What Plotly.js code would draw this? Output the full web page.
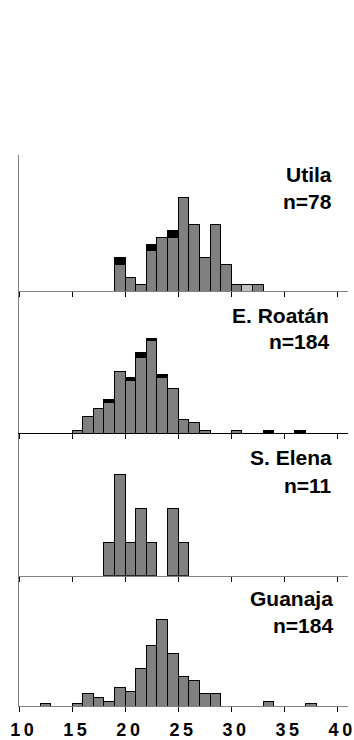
<!DOCTYPE html>
<html>
<head>
<meta charset="utf-8">
<script src="https://cdn.plot.ly/plotly-3.0.1.min.js"></script>
<style>html,body{margin:0;padding:0;background:#fff;}#chart{width:354px;height:740px;}</style>
</head>
<body>
<div id="chart"></div>
<script>
// Bin left edges (size 1) and counts per island
const utilaBins  = [19,20,21,22,23,24,25,26,27,28,29,30,31,32];
const utilaGray  = [4, 2, 1, 6, 8, 8, 14,10,5, 10,4, 1, 0, 1];
const utilaBlack = [1, 0, 0, 1, 0, 1, 0, 0, 0, 0, 0, 0, 0, 0];
const utilaLight = [0, 0, 0, 0, 0, 0, 0, 0, 0, 0, 0, 0, 1, 0];

const roatanBins  = [15,16,17,18,19,20,21,22,23,24,25,26,27,30,33,36];
const roatanGray  = [1, 6, 9, 11,22,19,27,33,20,16,5, 4, 1, 1, 0, 0];
const roatanBlack = [0, 0, 0, 1, 0, 1, 2, 1, 1, 0, 0, 0, 0, 0, 1, 1];

const elenaBins = [18,19,20,21,22,24,25];
const elenaGray = [1, 3, 1, 2, 1, 2, 1];

const guanajaBins = [12,15,16,17,18,19,20,21,22,23,24,25,26,27,28,33,37];
const guanajaGray = [1, 1, 6, 4, 2, 9, 7, 18,29,41,25,14,12,6, 6, 2, 1];

const panelNames = ['Utila','E. Roatán','S. Elena','Guanaja'];
const panelN     = ['n=78','n=184','n=11','n=184'];
const xTicks = [10,15,20,25,30,35,40];
const xTickText = ['1\u20090','1\u20095','2\u20090','2\u20095','3\u20090','3\u20095','4\u20090'];

const GRAY = '#808080', BLACK = '#000000', LIGHT = '#c0c0c0';

function barTrace(bins, vals, color, xa, ya) {
  return {
    type: 'bar', x: bins, y: vals, xaxis: xa, yaxis: ya,
    width: 1, offset: 0,
    marker: {color: color, line: {color: '#000', width: 1}},
    hoverinfo: 'skip', showlegend: false
  };
}

const traces = [
  barTrace(guanajaBins, guanajaGray, GRAY, 'x', 'y'),
  barTrace(elenaBins, elenaGray, GRAY, 'x2', 'y2'),
  barTrace(roatanBins, roatanGray, GRAY, 'x3', 'y3'),
  barTrace(roatanBins, roatanBlack, BLACK, 'x3', 'y3'),
  barTrace(utilaBins, utilaGray, GRAY, 'x4', 'y4'),
  barTrace(utilaBins, utilaBlack, BLACK, 'x4', 'y4'),
  barTrace(utilaBins, utilaLight, LIGHT, 'x4', 'y4')
];

const H = 740, T = 155, B = 34;
const plotH = H - T - B;
function py(p) { return (H - B - p) / plotH; }

const dGuan = [0, py(575.7)];
const dElen = [py(575.7), py(433.3)];
const dRoat = [py(433.3), py(291)];
const dUtil = [py(291), 1];

function xAxis(anchor, labels, lineColor) {
  return {
    anchor: anchor, domain: [0, 1], range: [10, 41],
    showline: true, linecolor: lineColor, linewidth: 1,
    ticks: 'outside', ticklen: 5, tickwidth: 1, tickcolor: '#000',
    tickvals: xTicks, ticktext: xTickText, showticklabels: labels,
    ticklabelshift: 3, ticklabelstandoff: 2,
    tickfont: {family: '"Liberation Sans", Arial, sans-serif', size: 18, color: '#000', weight: 'bold'},
    showgrid: false, zeroline: false, fixedrange: true
  };
}
function yAxis(anchor, domain, top) {
  return {
    anchor: anchor, domain: domain, range: [0, top],
    showline: true, linecolor: '#808080', linewidth: 1.3,
    ticks: '', showticklabels: false,
    showgrid: false, zeroline: false, fixedrange: true
  };
}

const annFont = {family: '"Liberation Sans", Arial, sans-serif', size: 21, color: '#000', weight: 'bold'};
function px(p) { return (p - 19) / (348 - 19); }
function ann(text, xr, yc) {
  return {text: text, xref: 'paper', yref: 'paper', x: px(xr), y: py(yc),
          xanchor: 'right', yanchor: 'middle', showarrow: false, font: annFont};
}

const layout = {
  width: 354, height: 740,
  margin: {l: 19, r: 6, t: T, b: B},
  paper_bgcolor: '#fff', plot_bgcolor: 'rgba(0,0,0,0)',
  barmode: 'stack', bargap: 0,
  showlegend: false,
  xaxis:  xAxis('y', true, '#808080'),
  yaxis:  yAxis('x', dGuan, 62),
  xaxis2: xAxis('y2', false, '#808080'),
  yaxis2: yAxis('x2', dElen, 4.23),
  xaxis3: xAxis('y3', false, '#000'),
  yaxis3: yAxis('x3', dRoat, 50.8),
  xaxis4: xAxis('y4', false, '#808080'),
  yaxis4: yAxis('x4', dUtil, 20.3),
  annotations: [
    ann(panelNames[0], 334, 175),
    ann(panelN[0], 334, 201.7),
    ann(panelNames[1], 331, 315),
    ann(panelN[1], 331, 341.7),
    ann(panelNames[2], 334, 457.3),
    ann(panelN[2], 334, 485),
    ann(panelNames[3], 335, 598.3),
    ann(panelN[3], 335, 625)
  ]
};

Plotly.newPlot('chart', traces, layout, {displayModeBar: false, staticPlot: true});
</script>
</body>
</html>
